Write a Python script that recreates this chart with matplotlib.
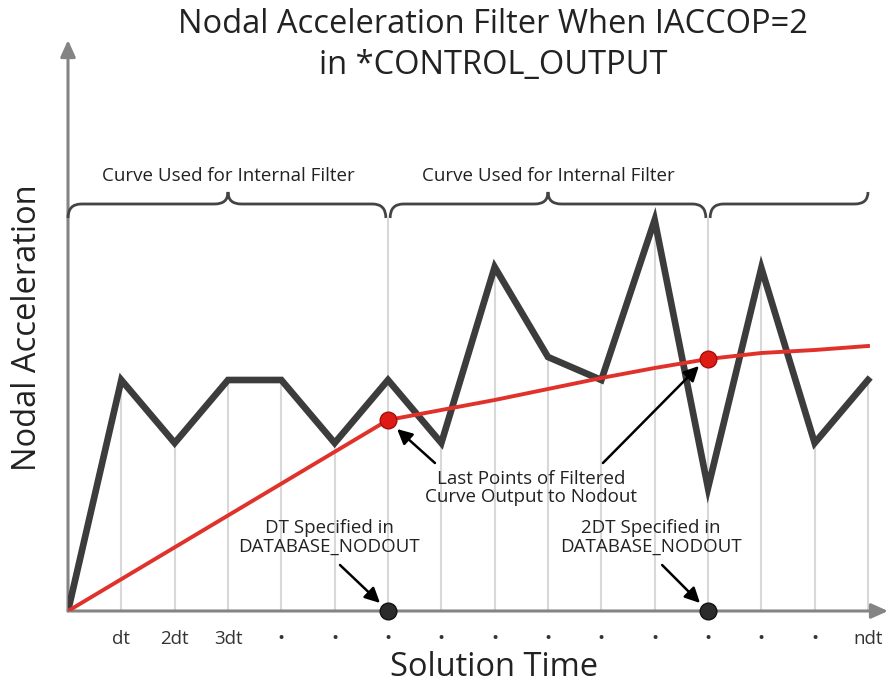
import matplotlib
matplotlib.use('Agg')
import matplotlib.pyplot as plt
from matplotlib.path import Path
from matplotlib.patches import PathPatch

plt.rcParams['font.family'] = ['Open Sans', 'DejaVu Sans']

# ---------------- data ----------------
steps = list(range(16))
raw_accel = [0, 23.1, 16.8, 23.1, 23.1, 16.8, 23.1, 16.8, 34.4, 25.4,
             23.1, 39.1, 12.3, 34.3, 16.8, 23.1]
filt_steps = [0, 6, 7, 8, 9, 10, 11, 12, 13, 14, 15]
filt_accel = [0, 19.1, 20.1, 21.1, 22.2, 23.3, 24.3, 25.2, 25.8, 26.1, 26.5]
output_steps = [6, 12]
output_filt = [19.1, 25.2]
tick_labels = ['dt', '2dt', '3dt'] + ['\u2022'] * 11 + ['ndt']
brace_label = 'Curve Used for Internal Filter'
title = 'Nodal Acceleration Filter When IACCOP=2\nin *CONTROL_OUTPUT'

# ---------------- figure ----------------
fig = plt.figure(figsize=(8.88, 6.9), dpi=100)
W, H = 888, 690
ax = fig.add_axes([68 / W, 79 / H, 820 / W, 571 / H])
ax.set_xlim(0, 15.375)
ax.set_ylim(0, 57.1)
for s in ax.spines.values():
    s.set_visible(False)

axis_col = '#848484'
for end in [(1, 0), (0, 1)]:
    ax.annotate('', xy=end, xytext=(0, 0), xycoords='axes fraction',
                textcoords='axes fraction', annotation_clip=False,
                arrowprops=dict(arrowstyle='-|>,head_length=1.0,head_width=0.45',
                                color=axis_col, lw=2.2, shrinkA=0, shrinkB=0,
                                mutation_scale=10), zorder=2)

# brace levels
y_end, y_base, y_tip = 39.3, 40.7, 41.9

# drop lines
tops = [y_end if k in output_steps else v for k, v in zip(steps, raw_accel)]
ax.vlines(steps[1:], 0, tops[1:], colors='#d8d8d8', lw=1.5, zorder=1)

# curves
ax.plot(steps, raw_accel, color='#3c3c3c', lw=4.8, solid_joinstyle='miter',
        zorder=3)
ax.plot(filt_steps, filt_accel, color='#e0322b', lw=2.8, zorder=4)
ax.plot(output_steps, output_filt, 'o', ms=12, mfc='#dd1a14', mec='#a50d0d',
        mew=1, zorder=6)
ax.plot(output_steps, [0, 0], 'o', ms=12, mfc='#2b2b2b', mec='#111111',
        mew=1, zorder=6, clip_on=False)

# ticks
ax.set_xticks(steps[1:])
ax.set_xticklabels(tick_labels, fontsize=13.5, color='#333333')
ax.tick_params(axis='x', length=0, pad=14)
ax.set_yticks([])

# labels
ax.set_xlabel('Solution Time', fontsize=23.5, color='#222222')
ax.xaxis.set_label_coords((494 - 68) / 820, -(667 - 611) / 571)
ax.xaxis.label.set_va('center')
ax.set_ylabel('Nodal Acceleration', fontsize=23.5, color='#222222')
ax.yaxis.set_label_coords((28 - 68) / 820, (611 - 328) / 571)
ax.yaxis.label.set_va('center')

fig.text(493 / W, 1 - 45 / H, title, ha='center', va='center', fontsize=23.5,
         color='#222222', linespacing=1.3)

# braces
q = 0.25
def brace(x0, x1, xm=None, open_right=False):
    verts = [(x0, y_end), (x0, y_base), (x0 + q, y_base)]
    codes = [Path.MOVETO, Path.CURVE3, Path.CURVE3]
    if xm is not None:
        verts += [(xm - q, y_base), (xm, y_base), (xm, y_tip),
                  (xm, y_base), (xm + q, y_base)]
        codes += [Path.LINETO, Path.CURVE3, Path.CURVE3, Path.CURVE3, Path.CURVE3]
    if open_right:
        verts += [(x1 - q, y_base), (x1, y_base), (x1, y_tip)]
    else:
        verts += [(x1 - q, y_base), (x1, y_base), (x1, y_end)]
    codes += [Path.LINETO, Path.CURVE3, Path.CURVE3]
    ax.add_patch(PathPatch(Path(verts, codes), fill=False, ec='#444444',
                           lw=2.0, zorder=2, clip_on=False))

brace(0, 5.96, 3)
brace(6.04, 11.96, 9)
brace(12.04, 15, None, open_right=True)
for xc in (3, 9):
    ax.text(xc, 43.5, brace_label, ha='center', va='center', fontsize=13.5,
            color='#222222')

# annotations
ann_kw = dict(fontsize=13.5, color='#222222', ha='center', va='center',
              linespacing=1.05)
ax.text(8.68, 12.3, 'Last Points of Filtered\nCurve Output to Nodout', **ann_kw)
ax.text(4.9, 7.4, 'DT Specified in\nDATABASE_NODOUT', **ann_kw)
ax.text(10.93, 7.4, '2DT Specified in\nDATABASE_NODOUT', **ann_kw)

arr = dict(arrowstyle='-|>,head_length=0.9,head_width=0.45', color='black',
           lw=1.8, shrinkA=0, shrinkB=0, mutation_scale=10)
for start, end in [((6.88, 14.8), (6.17, 18.2)),
                   ((10.03, 14.8), (11.83, 24.5)),
                   ((5.10, 4.6), (5.85, 0.8)),
                   ((11.14, 4.6), (11.85, 0.8))]:
    ax.annotate('', xy=end, xytext=start, arrowprops=arr, zorder=5)

fig.savefig('out.png', dpi=100)
